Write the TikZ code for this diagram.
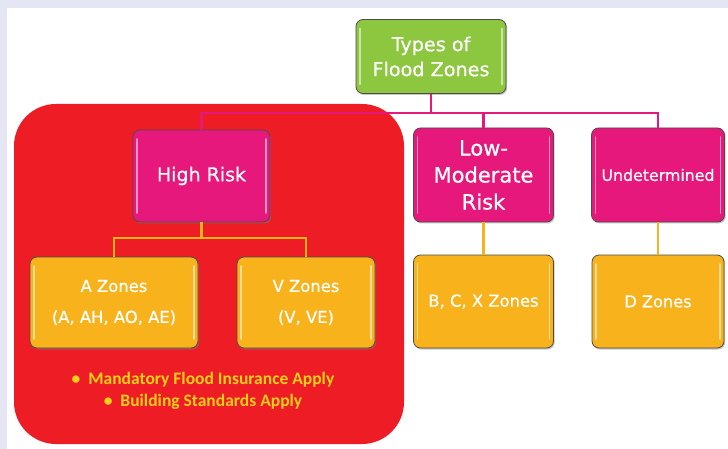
\documentclass[tikz,border=0pt]{standalone}
\usepackage{fontspec}
\setmainfont{DejaVu Sans}
\newfontfamily\boxfont{DejaVu Sans}[FakeBold=0.6]
\newfontfamily\notefont{Carlito}
\usetikzlibrary{shadows}
\definecolor{bgstrip}{HTML}{E4E6F4}
\definecolor{riskred}{HTML}{EE1C25}
\definecolor{boxgreen}{HTML}{8DC63F}
\definecolor{boxpink}{HTML}{E6187C}
\definecolor{boxorange}{HTML}{F8B21B}
\definecolor{notecol}{HTML}{F5CF1A}
\tikzset{
  gbox/.style={draw=black!70, line width=0.8pt, rounded corners=7pt, text=white,
    align=center, inner sep=2pt,
    drop shadow={shadow xshift=1.2pt, shadow yshift=-1.5pt, opacity=0.45},
    path picture={
      \draw[white, opacity=0.55, line width=1.6pt, line cap=round]
        ([xshift=4pt,yshift=-9pt]path picture bounding box.north west) --
        ([xshift=4pt,yshift=9pt]path picture bounding box.south west);
      \draw[white, opacity=0.55, line width=1.6pt, line cap=round]
        ([xshift=-4pt,yshift=-9pt]path picture bounding box.north east) --
        ([xshift=-4pt,yshift=9pt]path picture bounding box.south east);
    }},
  greenbox/.style={gbox, fill=boxgreen},
  pinkbox/.style={gbox, fill=boxpink},
  orangebox/.style={gbox, fill=boxorange},
  pinkline/.style={draw=boxpink, line width=2.8pt},
  orangeline/.style={draw=boxorange, line width=2.8pt},
  notetext/.style={text=notecol, align=center, font=\notefont\bfseries\fontsize{17.5}{22}\selectfont}
}
\begin{document}
\begin{tikzpicture}[x=1pt,y=-1pt]
\useasboundingbox (0,0) rectangle (728,449);
\fill[bgstrip] (0,0) rectangle (728,449);
\fill[white] (7,8) rectangle (728,449);
\fill[riskred, rounded corners=42pt] (14,104) rectangle (404,444);

\node[greenbox, minimum width=150pt, minimum height=74pt, font=\boxfont\fontsize{19.2}{25}\selectfont] (top) at (431,56.5) {Types of\\Flood Zones};
\node[pinkbox, minimum width=137pt, minimum height=92pt, font=\boxfont\fontsize{19}{22}\selectfont] (high) at (201.5,176) {High Risk};
\node[pinkbox, minimum width=140pt, minimum height=94pt, font=\boxfont\fontsize{21}{27}\selectfont] (low) at (483.5,175) {Low-\\Moderate\\Risk};
\node[pinkbox, minimum width=133pt, minimum height=94pt, font=\boxfont\fontsize{15.8}{18}\selectfont] (und) at (658,175) {Undetermined};
\node[orangebox, minimum width=168pt, minimum height=91pt, font=\boxfont\fontsize{16.4}{31}\selectfont] (azone) at (114,302.5) {A Zones\\(A, AH, AO, AE)};
\node[orangebox, minimum width=138pt, minimum height=91pt, font=\boxfont\fontsize{16.4}{31}\selectfont] (vzone) at (306,302.5) {V Zones\\(V, VE)};
\node[orangebox, minimum width=140pt, minimum height=93pt, font=\boxfont\fontsize{16.4}{19}\selectfont] (bcx) at (483.5,301.5) {B, C, X Zones};
\node[orangebox, minimum width=132pt, minimum height=93pt, font=\boxfont\fontsize{16.2}{19}\selectfont] (dzone) at (658,301.5) {D Zones};

\node[notetext] (notes) at (203,391) {\textbullet\ \ Mandatory Flood Insurance Apply\\\textbullet\ \ Building Standards Apply};

\coordinate (pbus) at (0,113);
\coordinate (obus) at (0,238);
\draw[pinkline] (top.south) -- (top.south |- pbus);
\draw[pinkline] (high.north) |- (und.north |- pbus) -- (und.north);
\draw[pinkline] (low.north) -- (low.north |- pbus);
\draw[orangeline] (high.south) -- (high.south |- obus);
\draw[orangeline] (azone.north) |- (vzone.north |- obus) -- (vzone.north);
\draw[orangeline] (low.south) -- (bcx.north);
\draw[orangeline] (und.south) -- (dzone.north);
\end{tikzpicture}
\end{document}
